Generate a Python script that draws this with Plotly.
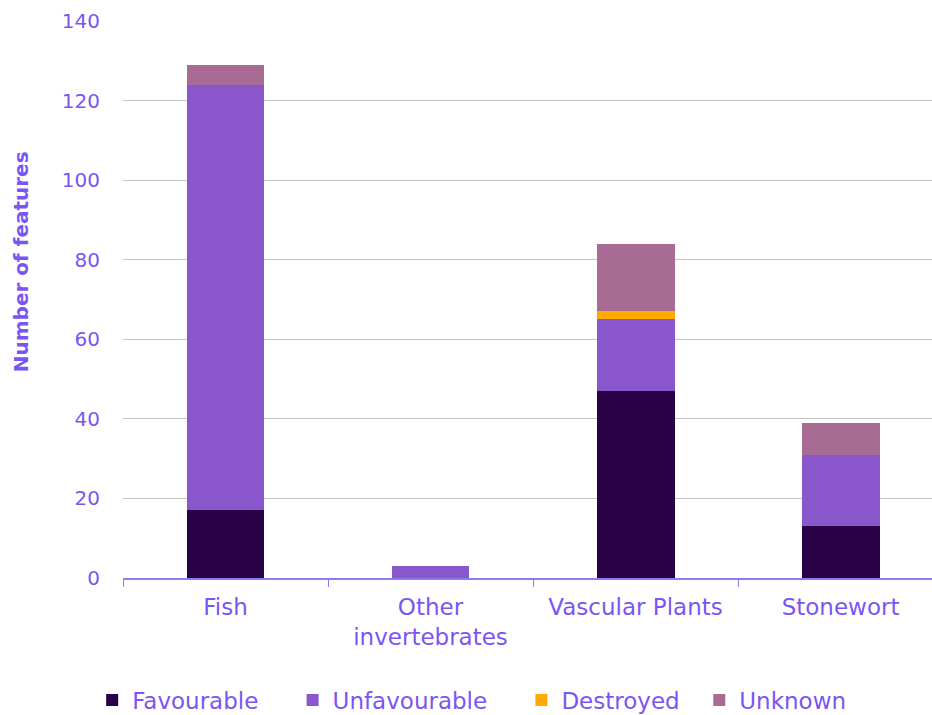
import plotly.graph_objects as go

categories = ["Fish", "Other<br>invertebrates", "Vascular Plants", "Stonewort"]
favourable = [17, 0, 47, 13]
unfavourable = [107, 3, 18, 18]
destroyed = [0, 0, 2, 0]
unknown = [5, 0, 17, 8]
y_ticks = [0, 20, 40, 60, 80, 100, 120, 140]

txt = "#7B55F4"
font_family = "'DejaVu Sans', sans-serif"
nb = "\u00a0"

series = [
    ("Favourable" + nb * 4, favourable, "#2A0046"),
    ("Unfavourable" + nb * 4, unfavourable, "#8A56CC"),
    ("Destroyed" + nb * 2, destroyed, "#FFAA00"),
    ("Unknown", unknown, "#A86B94"),
]

fig = go.Figure()
for name, vals, col in series:
    fig.add_trace(go.Bar(name=name, x=categories, y=vals, marker=dict(color=col, line=dict(width=0)), width=0.38))

fig.update_layout(
    barmode="stack",
    width=932, height=715,
    margin=dict(l=123, r=0, t=21, b=137, autoexpand=False),
    plot_bgcolor="white", paper_bgcolor="white",
    font=dict(family=font_family, color=txt, size=20),
    legend=dict(orientation="h", x=0.431, xanchor="center", y=-0.219, yanchor="middle",
                font=dict(size=23, color=txt), traceorder="normal", itemwidth=30),
    showlegend=True,
)
fig.update_xaxes(range=[-0.5, 3.446], showline=True, linecolor="#8C7CF0", linewidth=1.5,
                 ticks="outside", tickson="boundaries", ticklen=7, tickcolor="#8C7CF0",
                 tickfont=dict(size=23, color=txt), showgrid=False, automargin=False,
                 ticklabelstandoff=8)
fig.update_yaxes(range=[0, 140], tickvals=y_ticks, showgrid=True, gridcolor="#C4C4C4", gridwidth=1,
                 zeroline=False, showline=False, tickfont=dict(size=20, color=txt), ticks="",
                 automargin=False, ticklabelstandoff=22)
fig.add_annotation(text="<b>Number of features</b>", textangle=-90, xref="paper", yref="paper",
                   x=-0.126, y=0.567, xanchor="center", yanchor="middle", showarrow=False,
                   font=dict(size=20, color=txt))

fig.write_html("out.html", post_script="document.body.style.margin='0';",
               config={"displayModeBar": False})
